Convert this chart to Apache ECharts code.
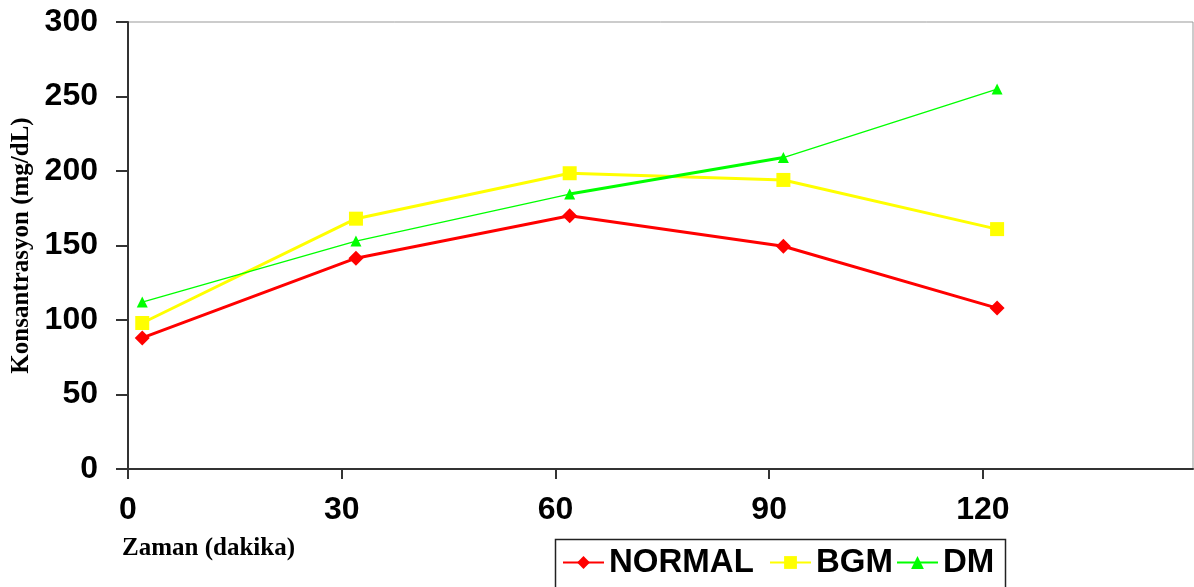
<!DOCTYPE html>
<html>
<head>
<meta charset="utf-8">
<script src="https://cdn.jsdelivr.net/npm/echarts@6/dist/echarts.min.js"></script>
<style>html,body{margin:0;padding:0;background:#fff}#c{width:1194px;height:587px}</style>
</head>
<body>
<div id="c"></div>
<script>
const times = [2, 32, 62, 92, 122];
const normal = [88, 141.5, 170, 149.5, 108];
const bgm = [98, 168, 198.5, 194, 161];
const dm = [112, 153, 184.5, 209, 255];
const xTicks = [0, 30, 60, 90, 120];
const yTicks = [0, 50, 100, 150, 200, 250, 300];
const seriesNames = ['NORMAL', 'BGM', 'DM'];

const pairs = (xs, ys) => xs.map((x, i) => [x, ys[i]]);

const chart = echarts.init(document.getElementById('c'), null, {renderer: 'canvas'});
const numFont = {fontFamily: 'Liberation Sans, Arial, sans-serif', fontWeight: 'bold', fontSize: 32, color: '#000'};
const legendCommon = {
  orient: 'horizontal', padding: 0, itemWidth: 41, itemHeight: 16, top: 546,
  textStyle: {fontFamily: 'Liberation Sans, Arial, sans-serif', fontWeight: 'bold', fontSize: 33, color: '#000'}
};
chart.setOption({
  animation: false,
  backgroundColor: '#fff',
  grid: {left: 128, top: 22, right: 1, bottom: 118, show: true, borderColor: '#999', borderWidth: 1,
         containLabel: false, outerBoundsMode: 'none'},
  xAxis: {
    type: 'value', min: xTicks[0], max: 149.5, interval: 30,
    axisLine: {lineStyle: {color: '#333', width: 2}},
    axisTick: {show: true, length: 10, lineStyle: {color: '#333', width: 2}},
    splitLine: {show: false},
    axisLabel: Object.assign({margin: 25, lineHeight: 32, showMaxLabel: false,
      formatter: v => xTicks.indexOf(v) >= 0 ? String(v) : ''}, numFont)
  },
  yAxis: {
    type: 'value', min: yTicks[0], max: yTicks[yTicks.length - 1], interval: 50,
    name: 'Konsantrasyon (mg/dL)', nameLocation: 'middle', nameGap: 93, nameRotate: 90,
    nameTextStyle: {fontFamily: 'Liberation Serif, Times New Roman, serif', fontWeight: 'bold', fontSize: 25, color: '#000'},
    axisLine: {show: true, lineStyle: {color: '#333', width: 2}},
    axisTick: {show: true, length: 12, lineStyle: {color: '#333', width: 2}},
    splitLine: {show: false},
    axisLabel: Object.assign({margin: 30}, numFont)
  },
  legend: [
    Object.assign({left: 562, data: [seriesNames[0]]}, legendCommon),
    Object.assign({left: 769, data: [seriesNames[1]]}, legendCommon),
    Object.assign({left: 896, data: [seriesNames[2]]}, legendCommon)
  ],
  graphic: [
    {type: 'rect', left: 553, top: 537, shape: {width: 450, height: 70}, style: {fill: 'none', stroke: '#222', lineWidth: 1.5}, z: 100},
    {type: 'text', left: 122, top: 536, style: {text: 'Zaman (dakika)', font: 'bold 25px "Liberation Serif", "Times New Roman", serif', fill: '#000'}}
  ],
  series: [
    {name: seriesNames[0], type: 'line', data: pairs(times, normal), symbol: 'diamond', symbolSize: 15,
     lineStyle: {color: '#ff0000', width: 3}, itemStyle: {color: '#ff0000'}, z: 3},
    {name: seriesNames[1], type: 'line', data: pairs(times, bgm), symbol: 'rect', symbolSize: 14,
     lineStyle: {color: '#ffff00', width: 3}, itemStyle: {color: '#ffff00'}, z: 2},
    {name: seriesNames[2], type: 'line', data: pairs(times, dm), symbol: 'triangle', symbolSize: 11,
     lineStyle: {color: '#00ff00', width: 1.3}, itemStyle: {color: '#00ff00'}, z: 4},
    {name: 'DM-seg', type: 'line', data: pairs(times.slice(2, 4), dm.slice(2, 4)), symbol: 'none',
     lineStyle: {color: '#00ff00', width: 3}, z: 4, silent: true}
  ]
});
</script>
</body>
</html>
